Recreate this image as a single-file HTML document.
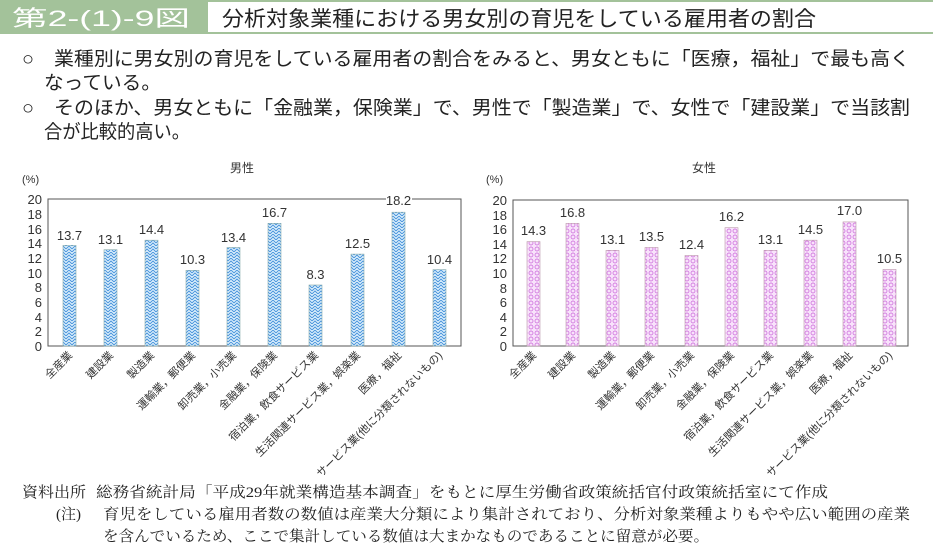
<!DOCTYPE html>
<html><head><meta charset="utf-8"><style>
body{margin:0;width:933px;height:544px;background:#fff;overflow:hidden;font-family:"Liberation Sans","Noto Sans CJK JP",sans-serif;}
</style></head><body>
<svg width="933" height="544" xmlns="http://www.w3.org/2000/svg" font-family="Liberation Sans, Noto Sans CJK JP, sans-serif">
<defs>
<pattern id="pb" width="6" height="6" patternUnits="userSpaceOnUse">
<rect width="6" height="6" fill="#d6ecfb"/>
<path d="M0 3 L3 0 L6 3 M0 6 L3 3 L6 6" stroke="#3a8ad8" stroke-width="0.8" fill="none"/>
</pattern>
<pattern id="pp" width="6" height="6" patternUnits="userSpaceOnUse">
<rect width="6" height="6" fill="#f8e2fb"/>
<circle cx="3" cy="3" r="2" stroke="#c860d8" stroke-width="0.7" fill="none"/>
</pattern>
</defs>
<rect x="0" y="0" width="933" height="34" fill="#a3c29a"/>
<rect x="208" y="2" width="725" height="30" fill="#fff"/>
<text x="12" y="26" font-size="22" fill="#fff" textLength="178" lengthAdjust="spacingAndGlyphs">第2-(1)-9図</text>
<text x="222" y="26" font-size="21" fill="#222" textLength="594" lengthAdjust="spacingAndGlyphs">分析対象業種における男女別の育児をしている雇用者の割合</text>
<g font-size="19" fill="#222">
<text x="22" y="65" textLength="888" lengthAdjust="spacingAndGlyphs">○　業種別に男女別の育児をしている雇用者の割合をみると、男女ともに「医療，福祉」で最も高く</text>
<text x="44" y="89" textLength="117" lengthAdjust="spacingAndGlyphs">なっている。</text>
<text x="22" y="114" textLength="888" lengthAdjust="spacingAndGlyphs">○　そのほか、男女ともに「金融業，保険業」で、男性で「製造業」で、女性で「建設業」で当該割</text>
<text x="44" y="138" textLength="146" lengthAdjust="spacingAndGlyphs">合が比較的高い。</text>
</g>
<text x="230" y="172" font-size="12" fill="#333">男性</text>
<text x="692" y="172" font-size="12" fill="#333">女性</text>
<text x="22" y="183" font-size="11" fill="#333">(%)</text>
<text x="486" y="183" font-size="11" fill="#333">(%)</text>
<g id="m">
<rect x="48" y="199" width="413" height="147" fill="none" stroke="#555" stroke-width="1"/>
<g font-size="13" fill="#333" text-anchor="end">
<text x="42" y="351">0</text><text x="42" y="336">2</text><text x="42" y="322">4</text><text x="42" y="307">6</text><text x="42" y="292">8</text><text x="42" y="278">10</text><text x="42" y="263">12</text><text x="42" y="248">14</text><text x="42" y="234">16</text><text x="42" y="219">18</text><text x="42" y="204">20</text>
</g>
<g stroke="#8aa" stroke-width="0.6" fill="url(#pb)">
<rect x="63" y="245.3" width="13" height="100.7"/>
<rect x="104" y="249.7" width="13" height="96.3"/>
<rect x="145" y="240.2" width="13" height="105.8"/>
<rect x="186" y="270.3" width="13" height="75.7"/>
<rect x="227" y="247.5" width="13" height="98.5"/>
<rect x="268" y="223.3" width="13" height="122.7"/>
<rect x="309" y="285" width="13" height="61"/>
<rect x="351" y="254.1" width="13" height="91.9"/>
<rect x="392" y="212.2" width="13" height="133.8"/>
<rect x="433" y="269.6" width="13" height="76.4"/>
</g>
<g font-size="13" fill="#333" text-anchor="middle">
<text x="69.5" y="240">13.7</text><text x="110.5" y="244">13.1</text><text x="151.5" y="234">14.4</text><text x="192.5" y="264">10.3</text><text x="233.5" y="242">13.4</text><text x="274.5" y="217">16.7</text><text x="315.5" y="279">8.3</text><text x="357.5" y="248">12.5</text><rect x="386" y="193" width="26" height="12" fill="#fff"/><text x="398.5" y="205">18.2</text><text x="439.5" y="264">10.4</text>
</g>
<g font-size="11" fill="#333" text-anchor="end">
<text transform="translate(73,356) rotate(-45)">全産業</text>
<text transform="translate(114,356) rotate(-45)">建設業</text>
<text transform="translate(155,356) rotate(-45)">製造業</text>
<text transform="translate(196,356) rotate(-45)">運輸業，郵便業</text>
<text transform="translate(237,356) rotate(-45)">卸売業，小売業</text>
<text transform="translate(278,356) rotate(-45)">金融業，保険業</text>
<text transform="translate(319,356) rotate(-45)">宿泊業，飲食サービス業</text>
<text transform="translate(361,356) rotate(-45)">生活関連サービス業，娯楽業</text>
<text transform="translate(402,356) rotate(-45)">医療，福祉</text>
<text transform="translate(443,356) rotate(-45)">サービス業(他に分類されないもの)</text>
</g>
</g>
<g id="f">
<rect x="513" y="200" width="395" height="146" fill="none" stroke="#555" stroke-width="1"/>
<g font-size="13" fill="#333" text-anchor="end">
<text x="507" y="351">0</text><text x="507" y="336">2</text><text x="507" y="322">4</text><text x="507" y="307">6</text><text x="507" y="293">8</text><text x="507" y="278">10</text><text x="507" y="263">12</text><text x="507" y="249">14</text><text x="507" y="234">16</text><text x="507" y="220">18</text><text x="507" y="205">20</text>
</g>
<g stroke="#b9a" stroke-width="0.6" fill="url(#pp)">
<rect x="527" y="241.6" width="13" height="104.4"/>
<rect x="566" y="223.4" width="13" height="122.6"/>
<rect x="606" y="250.4" width="13" height="95.6"/>
<rect x="645" y="247.5" width="13" height="98.5"/>
<rect x="685" y="255.5" width="13" height="90.5"/>
<rect x="725" y="227.7" width="13" height="118.3"/>
<rect x="764" y="250.4" width="13" height="95.6"/>
<rect x="804" y="240.2" width="13" height="105.8"/>
<rect x="843" y="221.9" width="13" height="124.1"/>
<rect x="883" y="269.4" width="13" height="76.6"/>
</g>
<g font-size="13" fill="#333" text-anchor="middle">
<text x="533.5" y="235">14.3</text><text x="572.5" y="217">16.8</text><text x="612.5" y="244">13.1</text><text x="651.5" y="241">13.5</text><text x="691.5" y="249">12.4</text><text x="731.5" y="221">16.2</text><text x="770.5" y="244">13.1</text><text x="810.5" y="234">14.5</text><text x="849.5" y="215">17.0</text><text x="889.5" y="263">10.5</text>
</g>
<g font-size="11" fill="#333" text-anchor="end">
<text transform="translate(537,356) rotate(-45)">全産業</text>
<text transform="translate(576,356) rotate(-45)">建設業</text>
<text transform="translate(616,356) rotate(-45)">製造業</text>
<text transform="translate(655,356) rotate(-45)">運輸業，郵便業</text>
<text transform="translate(695,356) rotate(-45)">卸売業，小売業</text>
<text transform="translate(735,356) rotate(-45)">金融業，保険業</text>
<text transform="translate(774,356) rotate(-45)">宿泊業，飲食サービス業</text>
<text transform="translate(814,356) rotate(-45)">生活関連サービス業，娯楽業</text>
<text transform="translate(853,356) rotate(-45)">医療，福祉</text>
<text transform="translate(893,356) rotate(-45)">サービス業(他に分類されないもの)</text>
</g>
</g>
<g font-size="15" fill="#222" font-family="Liberation Serif, Noto Serif CJK SC, serif">
<text x="22" y="497" textLength="64" lengthAdjust="spacingAndGlyphs">資料出所</text>
<text x="96" y="497" textLength="732" lengthAdjust="spacingAndGlyphs">総務省統計局「平成29年就業構造基本調査」をもとに厚生労働省政策統括官付政策統括室にて作成</text>
<text x="56" y="519">(注)</text>
<text x="103" y="519" textLength="807" lengthAdjust="spacingAndGlyphs">育児をしている雇用者数の数値は産業大分類により集計されており、分析対象業種よりもやや広い範囲の産業</text>
<text x="103" y="541" textLength="606" lengthAdjust="spacingAndGlyphs">を含んでいるため、ここで集計している数値は大まかなものであることに留意が必要。</text>
</g>
</svg>
</body></html>
